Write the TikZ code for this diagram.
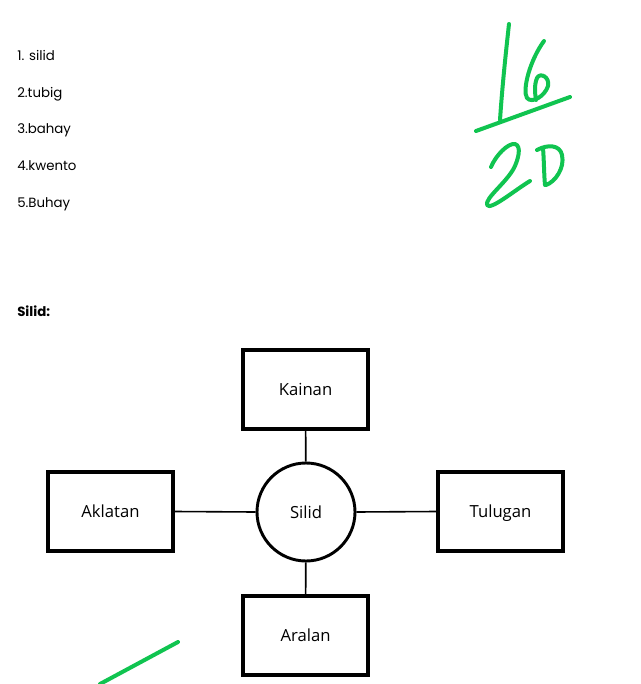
\documentclass[tikz,border=0pt]{standalone}
\usepackage{fontspec}
\setmainfont{Open Sans}
\newfontfamily\listfont{Poppins}
\definecolor{pen}{RGB}{16,196,80}
\begin{document}
\begin{tikzpicture}[x=0.75pt,y=-0.75pt,
  listitem/.style={anchor=base west,inner sep=0pt,font=\listfont\fontsize{10pt}{12pt}\selectfont},
  boxnode/.style={draw,line width=3pt,minimum width=124.5*0.75pt,minimum height=79*0.75pt,inner sep=0pt,text height=9pt,text depth=0pt,font=\fontsize{12.5pt}{14pt}\selectfont},
  hub/.style={draw,circle,line width=2.2pt,minimum size=98*0.75pt,inner sep=0pt,text height=9pt,text depth=0pt,font=\fontsize{12.5pt}{14pt}\selectfont},
  link/.style={line width=1.2pt},
  ink/.style={draw=pen,line width=3pt,line cap=round,line join=round}]
\useasboundingbox (0,0) rectangle (641,684);
\fill[white] (0,0) rectangle (641,684);
% list
\node[listitem] (l1) at (17,61) {1. silid};
\node[listitem] (l2) at (17,98) {2.tubig};
\node[listitem] (l3) at (17,134) {3.bahay};
\node[listitem] (l4) at (17,171) {4.kwento};
\node[listitem] (l5) at (17,207) {5.Buhay};
\node[listitem,font=\listfont\bfseries\fontsize{10pt}{12pt}\selectfont] (title) at (17,316) {Silid:};
% diagram
\node[hub] (silid) at (306,512) {Silid};
\node[boxnode] (kainan) at (305.5,389) {Kainan};
\node[boxnode] (aklatan) at (110.5,511.5) {Aklatan};
\node[boxnode] (tulugan) at (500.5,511.5) {Tulugan};
\node[boxnode] (aralan) at (305.5,635.5) {Aralan};
\draw[link] (kainan) -- (silid);
\draw[link] (aklatan.east) -- (silid.west);
\draw[link] (silid.east) -- (tulugan.west);
\draw[link] (silid) -- (aralan);
% handwriting
\draw[ink] (509,24) .. controls (505,60) and (502,90) .. (500,120);
\draw[ink] (544,41) .. controls (530,60) and (522,90) .. (527,98)
  .. controls (532,104) and (545,96) .. (548,86)
  .. controls (550,77) and (540,72) .. (537,78) .. controls (534,85) and (535,94) .. (536,100);
\draw[ink] (476,131) -- (570,97);
\draw[ink] (491,167) .. controls (496,155) and (508,143) .. (515,144)
  .. controls (522,146) and (518,160) .. (514,168)
  .. controls (506,183) and (485,198) .. (487,205)
  .. controls (490,211) and (515,190) .. (530,181);
\draw[ink] (543,148) .. controls (544,160) and (544,175) .. (545,185);
\draw[ink] (537,150) .. controls (548,144) and (560,145) .. (562,155)
  .. controls (565,168) and (555,182) .. (546,185);
\draw[ink] (100,684) -- (178,642);
\end{tikzpicture}
\end{document}
